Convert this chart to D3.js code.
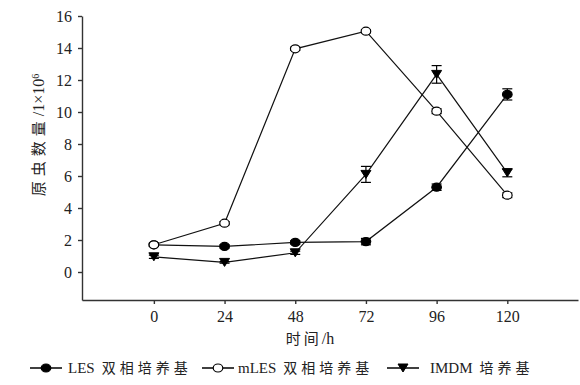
<!DOCTYPE html>
<html>
<head>
<meta charset="utf-8">
<script src="https://cdn.jsdelivr.net/npm/d3@7"></script>
<style>
  body { margin: 0; background: #fff; }
  .axis text { font-family: "Liberation Serif", serif; font-size: 16px; fill: #222; }
  .axis path, .axis line { stroke: #333; stroke-width: 1.4; }
</style>
</head>
<body>
<svg class="chart"></svg>
<script>
var width = 580, height = 385;

// data
var hours = [0, 24, 48, 72, 96, 120];
var lesVals  = [1.7, 1.6, 1.85, 1.9, 5.3, 11.1];
var lesErr   = [0.1, 0.1, 0.1, 0.2, 0.2, 0.35];
var mlesVals = [1.7, 3.05, 13.95, 15.05, 10.05, 4.8];
var mlesErr  = [0.1, 0.1, 0.1, 0.1, 0.15, 0.15];
var imdmVals = [0.95, 0.6, 1.2, 6.1, 12.35, 6.2];
var imdmErr  = [0.1, 0.05, 0.1, 0.5, 0.55, 0.25];
var yTicks = [0, 2, 4, 6, 8, 10, 12, 14, 16];
var legendNames = ["LES 双相培养基", "mLES 双相培养基", "IMDM 培养基"];

var svg = d3.select(".chart")
    .attr("width", width)
    .attr("height", height);

var xScale = d3.scaleLinear().domain([-24.4, 144]).range([82, 578]),
    yScale = d3.scaleLinear().domain([-1.75, 16]).range([300, 16]);

// x-axis
svg.append("g")
    .attr("class", "x axis")
    .attr("transform", "translate(0,300)")
    .call(d3.axisBottom(xScale).tickValues(hours).tickSize(4).tickSizeOuter(0).tickPadding(7));

// y-axis
svg.append("g")
    .attr("class", "y axis")
    .attr("transform", "translate(82,0)")
    .call(d3.axisLeft(yScale).tickValues(yTicks).tickSize(4).tickSizeOuter(0).tickPadding(6));

var cjk = "'Noto Sans CJK SC', sans-serif",
    serif = "'Liberation Serif', serif";

var xlab = svg.append("text")
    .attr("x", 310)
    .attr("y", 344)
    .attr("text-anchor", "middle")
    .style("font-size", "15px")
    .style("fill", "#222");
xlab.append("tspan").style("font-family", cjk).style("letter-spacing", "3px").text("时间");
xlab.append("tspan").style("font-family", serif).style("font-size", "16px").text("/h");

var ylab = svg.append("text")
    .attr("transform", "translate(44,135) rotate(-90)")
    .attr("text-anchor", "middle")
    .style("font-size", "15px")
    .style("fill", "#222");
ylab.append("tspan").style("font-family", cjk).style("letter-spacing", "5px").text("原虫数量");
ylab.append("tspan").style("font-family", serif).style("font-size", "16px").text("/1×10");
ylab.append("tspan").attr("dy", "-0.55em").style("font-family", serif).style("font-size", "10px").text("6");

var series = [
  {vals: lesVals, err: lesErr, type: "circle", fill: "#000"},
  {vals: mlesVals, err: mlesErr, type: "circle", fill: "#fff"},
  {vals: imdmVals, err: imdmErr, type: "tri", fill: "#000"}
];

var line = d3.line()
    .x(function(d, i) { return xScale(hours[i]); })
    .y(function(d) { return yScale(d); });

var triPath = "M-5,-4L5,-4L0,4Z";

function drawMarker(g, s, x, y) {
  if (s.type === "circle") {
    g.append("ellipse").attr("cx", x).attr("cy", y).attr("rx", 4.8).attr("ry", 4)
      .attr("fill", s.fill).attr("stroke", "#000").attr("stroke-width", 1.2);
  } else {
    g.append("path").attr("d", triPath).attr("transform", "translate(" + x + "," + y + ")")
      .attr("fill", s.fill).attr("stroke", "#000").attr("stroke-width", 1);
  }
}

series.forEach(function(s) {
  var g = svg.append("g");
  g.append("path")
    .datum(s.vals)
    .attr("d", line)
    .attr("fill", "none")
    .attr("stroke", "#111")
    .attr("stroke-width", 1.2);
  s.vals.forEach(function(v, i) {
    var x = xScale(hours[i]);
    var y1 = yScale(v + s.err[i]), y0 = yScale(v - s.err[i]);
    g.append("line").attr("x1", x).attr("x2", x).attr("y1", y1).attr("y2", y0)
      .attr("stroke", "#000").attr("stroke-width", 1.2);
    [y1, y0].forEach(function(yy) {
      g.append("line").attr("x1", x - 5).attr("x2", x + 5).attr("y1", yy).attr("y2", yy)
        .attr("stroke", "#000").attr("stroke-width", 1.2);
    });
  });
  s.vals.forEach(function(v, i) {
    drawMarker(g, s, xScale(hours[i]), yScale(v));
  });
});

// legend
var legX = [30, 202, 387];
var legTextX = [68, 238, 430];
series.forEach(function(s, i) {
  var g = svg.append("g");
  g.append("line").attr("x1", legX[i]).attr("x2", legX[i] + 32).attr("y1", 368).attr("y2", 368)
    .attr("stroke", "#000").attr("stroke-width", 1.5);
  drawMarker(g, s, legX[i] + 16, 368);
  var t = g.append("text")
    .attr("x", legTextX[i])
    .attr("y", 373)
    .style("font-size", "14px")
    .style("fill", "#222");
  var parts = legendNames[i].split(" ");
  t.append("tspan").style("font-family", serif).style("font-size", "15px").text(parts[0]);
  t.append("tspan").style("font-family", cjk).style("letter-spacing", "4px").attr("dx", "7").text(parts[1]);
});
</script>
</body>
</html>
